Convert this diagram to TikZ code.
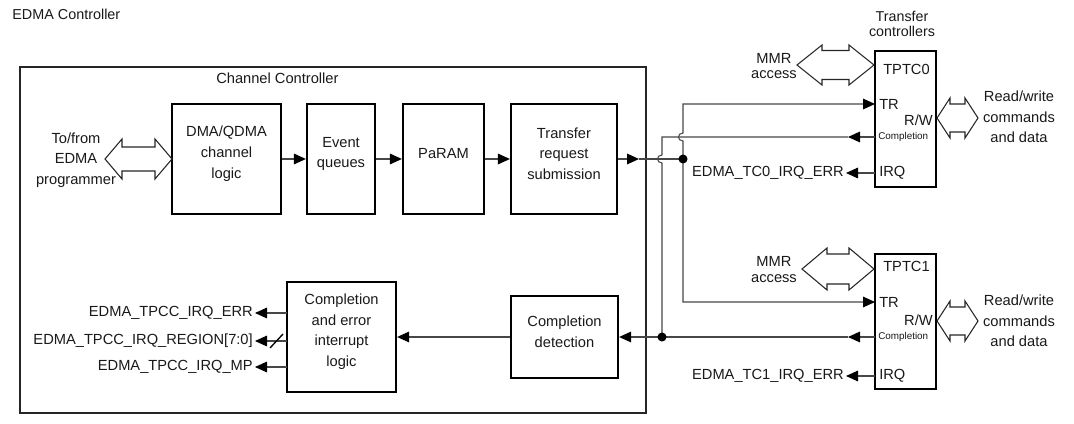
\documentclass[tikz,border=0pt]{standalone}
\usepackage{fontspec}
\setmainfont{Liberation Sans}
\usetikzlibrary{arrows.meta,fit}
\newcommand\hollowdbl[6]{% x1, x2, y, head length, shaft half, head half
  \draw[dbl] (#1,#3) -- (#1+#4,#3-#6) -- (#1+#4,#3-#5) -- (#2-#4,#3-#5) -- (#2-#4,#3-#6)
    -- (#2,#3) -- (#2-#4,#3+#6) -- (#2-#4,#3+#5) -- (#1+#4,#3+#5) -- (#1+#4,#3+#6) -- cycle;}
\tikzset{
  blk/.style={draw=black, line width=1.7pt, inner sep=0pt, align=center,
    font=\fontsize{11}{15.4}\selectfont, text=black!90},
  outerbox/.style={draw=black!85, line width=0.8pt, inner sep=0pt},
  tcbox/.style={draw=black, line width=1.8pt, inner sep=0pt},
  conn/.style={draw=black!72, line width=0.8pt},
  endarrow/.style={-{Triangle[length=9pt,width=8pt,color=black]}},
  lbl/.style={inner sep=0pt, font=\fontsize{11}{15.4}\selectfont, text=black!90, align=center},
  small/.style={inner sep=0pt, font=\fontsize{7.4}{8}\selectfont, text=black!90},
  dbl/.style={draw=black!85, line width=0.8pt, fill=white, line join=miter},
  jdot/.style={fill=black}
}
\begin{document}
\begin{tikzpicture}[x=0.75pt,y=-0.75pt]
\useasboundingbox (0,0) rectangle (1074,424);

% title
\node[lbl, anchor=west, font=\fontsize{10.8}{13}\selectfont] (title) at (12,14) {EDMA Controller};

% channel controller
\node[outerbox, fit={(20,67)(646,413)}] (cc) {};
\node[lbl, anchor=west] (cclbl) at (216,78) {Channel Controller};

\node[blk, fit={(172,104)(281,214)}] (dma) {DMA/QDMA\\channel\\logic};
\node[blk, fit={(307,104)(375,214)}] (evq) {Event\\queues};
\node[blk, fit={(403,104)(484,214)}] (param) {PaRAM};
\node[blk, fit={(511,104)(617,214)}] (trs) {Transfer\\request\\submission};
\node[blk, fit={(287,282)(396,392)}] (ced) {Completion\\and error\\interrupt\\logic};
\node[blk, fit={(511,296)(618,378)}] (cd) {Completion\\detection};

% programmer
\node[lbl] (prog) at (76,160) {To/from\\EDMA\\programmer};
\hollowdbl{105}{172}{159}{17}{12}{20}

% transfer controllers
\node[lbl, font=\fontsize{10.7}{11.3}\selectfont] (tclbl) at (902,24) {Transfer\\controllers};
\node[tcbox, fit={(875,51)(936,187)}] (tc0) {};
\node[tcbox, fit={(875,254)(936,389)}] (tc1) {};

\node[lbl, anchor=west] (tc0n) at (883,69) {TPTC0};
\node[lbl, anchor=west] (tc0tr) at (879,104) {TR};
\node[lbl, anchor=east] (tc0rw) at (933,120) {R/W};
\node[small, anchor=west] (tc0c) at (878,137) {Completion};
\node[lbl, anchor=west] (tc0i) at (879,173) {IRQ};

\node[lbl, anchor=west] (tc1n) at (883,266) {TPTC1};
\node[lbl, anchor=west] (tc1tr) at (879,302) {TR};
\node[lbl, anchor=east] (tc1rw) at (933,320) {R/W};
\node[small, anchor=west] (tc1c) at (878,337) {Completion};
\node[lbl, anchor=west] (tc1i) at (879,376) {IRQ};

% MMR access
\node[lbl, font=\fontsize{11}{11.5}\selectfont] (mmr0) at (774,66) {MMR\\access};
\node[lbl, font=\fontsize{11}{12}\selectfont] (mmr1) at (774,270) {MMR\\access};
\hollowdbl{797}{874}{65}{25}{14.5}{20}
\hollowdbl{802}{874}{269}{25}{15}{21}

% read/write
\node[lbl] (rw0) at (1019,117) {Read/write\\commands\\and data};
\node[lbl] (rw1) at (1019,321) {Read/write\\commands\\and data};
\hollowdbl{937}{978}{118}{13}{14}{20}
\hollowdbl{937}{978}{321}{13}{14}{20}

% coordinates
\coordinate (j1) at (683,159);
\coordinate (j2) at (662,337);
\coordinate (ma1) at (639,159);
\coordinate (tr0) at (875,104);
\coordinate (tr1) at (875,302);
\coordinate (cp0) at (875,137);
\coordinate (cp1) at (875,337);
\coordinate (ma2) at (848,137);
\coordinate (ma3) at (848,337);
\coordinate (irq0) at (875,173);
\coordinate (irq1) at (875,376);

% chain arrows
\draw[conn, endarrow] (dma.east) -- (evq.west);
\draw[conn, endarrow] (evq.east) -- (param.west);
\draw[conn, endarrow] (param.east) -- (trs.west);
\draw[conn, endarrow] (trs.east) -- (ma1);
\draw[conn] (ma1) -- (j1);

% TR distribution
\draw[conn, {Triangle[length=9pt,width=8pt,color=black]}-{Triangle[length=9pt,width=8pt,color=black]}]
  (tr0) -- (683,104) -- (683,133) .. controls (677,133) and (677,141) .. (683,141)
  -- (683,302) -- (tr1);
\fill[jdot] (j1) circle[radius=3.4pt];

% completion lines
\draw[conn, endarrow] (cp0) -- (ma2);
\draw[conn] (ma2) -- (662,137) -- (662,155) .. controls (656,155) and (656,163) .. (662,163) -- (j2);
\draw[conn, endarrow] (cp1) -- (ma3);
\draw[conn, endarrow] (ma3) -- (cd.east);
\fill[jdot] (j2) circle[radius=3.4pt];

% IRQ errors
\node[lbl, anchor=east, inner sep=1.5pt] (e0) at (846,173) {EDMA\_TC0\_IRQ\_ERR};
\node[lbl, anchor=east, inner sep=1.5pt] (e1) at (846,376) {EDMA\_TC1\_IRQ\_ERR};
\draw[conn, endarrow] (irq0) -- (e0.east);
\draw[conn, endarrow] (irq1) -- (e1.east);

% completion detection -> interrupt logic
\draw[conn, endarrow] (cd.west) -- (ced.east);

% outputs
\coordinate (o1) at (287,313);
\coordinate (o2) at (287,341);
\coordinate (o3) at (287,367);
\node[lbl, anchor=east, inner sep=1.5pt] (t1) at (255,313) {EDMA\_TPCC\_IRQ\_ERR};
\node[lbl, anchor=east, inner sep=1.5pt] (t2) at (255,341) {EDMA\_TPCC\_IRQ\_REGION[7:0]};
\node[lbl, anchor=east, inner sep=1.5pt] (t3) at (255,367) {EDMA\_TPCC\_IRQ\_MP};
\draw[conn, endarrow] (o1) -- (t1.east);
\draw[conn, endarrow] (o2) -- (t2.east);
\draw[conn, endarrow] (o3) -- (t3.east);
\draw[black, line width=1pt] (270,348) -- (283,334);
\end{tikzpicture}
\end{document}
